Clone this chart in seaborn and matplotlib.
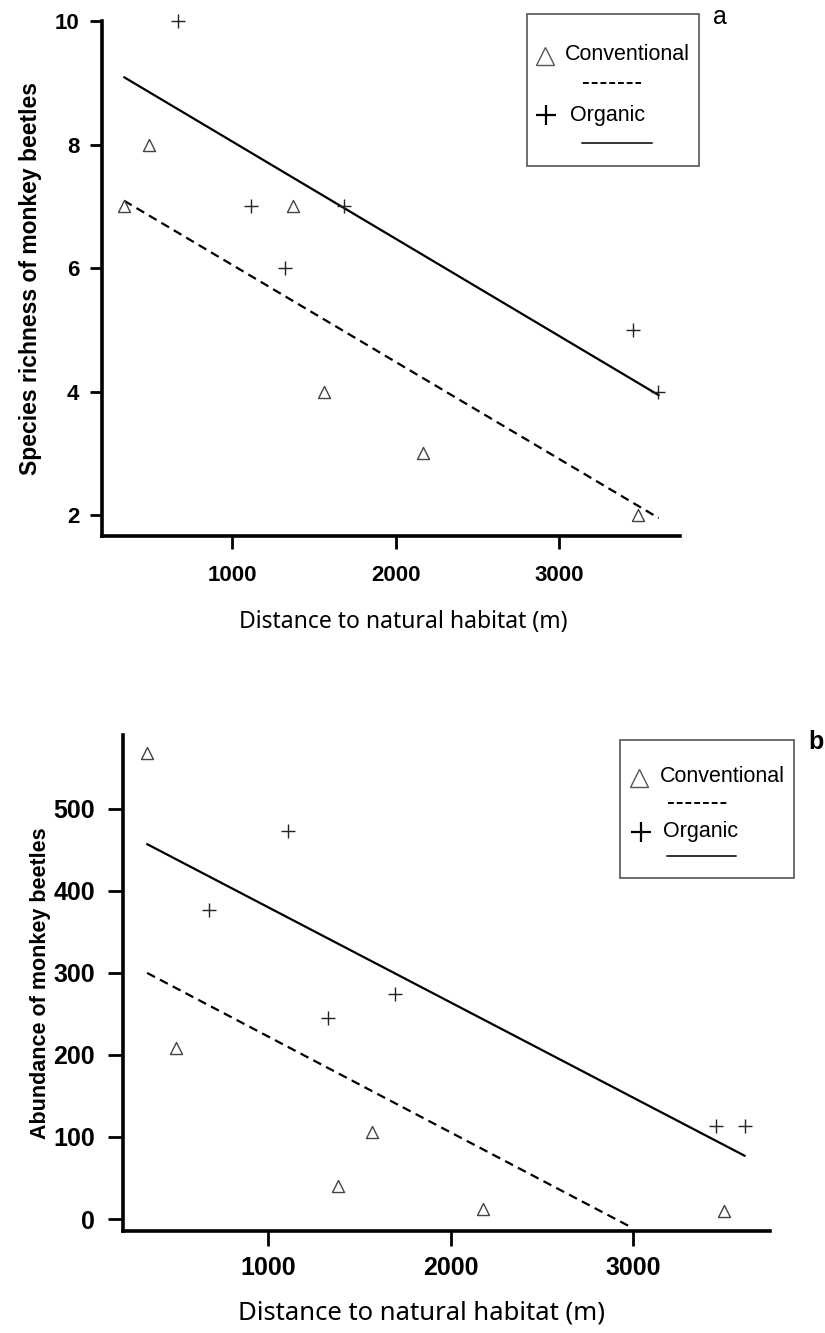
import numpy as np
import pandas as pd
import matplotlib
matplotlib.use("Agg")
import matplotlib.pyplot as plt
import seaborn as sns
from matplotlib.lines import Line2D
from matplotlib.patches import Rectangle

# --- Data ---
# panel a: species richness
conv_dist_a = [339, 492, 1375, 1564, 2171, 3483]
conv_rich_a = [7, 8, 7, 4, 3, 2]
org_dist_a = [672, 1114, 1324, 1687, 3452, 3606]
org_rich_a = [10, 7, 6, 7, 5, 4]
fit_dist_a = [340, 3610]
conv_fit_a = [7.09, 1.95]
org_fit_a = [9.09, 3.94]

# panel b: abundance
conv_dist_b = [337, 493, 1383, 1570, 2176, 3499]
conv_abund_b = [568, 208, 40, 106, 12, 10]
org_dist_b = [677, 1109, 1329, 1694, 3455, 3613]
org_abund_b = [377, 473, 245, 274, 113, 113]
conv_fit_dist_b = [337, 2990]
conv_fit_b = [300, -10]
org_fit_dist_b = [337, 3613]
org_fit_b = [457, 77]

ticks_x = [1000, 2000, 3000]
ticks_rich = [2, 4, 6, 8, 10]
ticks_abund = [0, 100, 200, 300, 400, 500]

sns.set_style("ticks")
plt.rcParams['font.family'] = ['Liberation Sans', 'DejaVu Sans']
plt.rcParams['text.color'] = 'black'
plt.rcParams['axes.labelcolor'] = 'black'
plt.rcParams['xtick.color'] = 'black'
plt.rcParams['ytick.color'] = 'black'

W, H = 825, 1333
fig = plt.figure(figsize=(W / 100, H / 100), dpi=100)


def px_box(x0, y0, x1, y1):
    return [x0 / W, 1 - y1 / H, (x1 - x0) / W, (y1 - y0) / H]


def fx(x):
    return x / W


def fy(y):
    return 1 - y / H


def draw_panel(ax, cd, cy, od, oy, cfx, cfy, ofx, ofy, tri_s, plus_s):
    sns.scatterplot(x=cd, y=cy, ax=ax, marker='^', s=tri_s, facecolor='white',
                    edgecolor='#444444', linewidth=1.0, zorder=3, clip_on=False)
    sns.scatterplot(x=od, y=oy, ax=ax, marker='+', s=plus_s, color='#222222',
                    linewidth=1.0, zorder=3, clip_on=False)
    sns.lineplot(x=cfx, y=cfy, ax=ax, color='black', linewidth=1.6,
                 estimator=None)
    ax.lines[-1].set_linestyle((0, (4, 2.5)))
    sns.lineplot(x=ofx, y=ofy, ax=ax, color='black', linewidth=1.6, estimator=None)
    sns.despine(ax=ax)
    for sp in ['left', 'bottom']:
        ax.spines[sp].set_linewidth(2.6)
        ax.spines[sp].set_color('black')


# --- panel a ---
ax1 = fig.add_axes(px_box(101.7, 21, 680, 536))
draw_panel(ax1, conv_dist_a, conv_rich_a, org_dist_a, org_rich_a,
           fit_dist_a, conv_fit_a, fit_dist_a, org_fit_a, 75, 110)
ax1.set_xlim(203, 3740)
ax1.set_ylim(1.66, 10)
ax1.set_xticks(ticks_x)
ax1.set_yticks(ticks_rich)
ax1.tick_params(axis='both', length=9, width=2, labelsize=16)
ax1.tick_params(axis='x', pad=12)
ax1.tick_params(axis='y', pad=7)
for lab in ax1.get_xticklabels() + ax1.get_yticklabels():
    lab.set_fontweight('bold')
ax1.set_ylabel("Species richness of monkey beetles", fontsize=16.5,
               fontweight='bold', labelpad=9)
ax1.set_xlabel("Distance to natural habitat (m)", fontsize=16.5,
               family=['Noto Sans', 'DejaVu Sans'])
ax1.xaxis.set_label_coords(0.521, -0.143)

# --- panel b ---
ax2 = fig.add_axes(px_box(123, 735, 770, 1231))
draw_panel(ax2, conv_dist_b, conv_abund_b, org_dist_b, org_abund_b,
           conv_fit_dist_b, conv_fit_b, org_fit_dist_b, org_fit_b, 75, 110)
ax2.set_xlim(205, 3751)
ax2.set_ylim(-14.6, 590)
ax2.set_xticks(ticks_x)
ax2.set_yticks(ticks_abund)
ax2.tick_params(axis='both', length=11, width=2, labelsize=18)
ax2.tick_params(axis='x', pad=7)
ax2.tick_params(axis='y', pad=9)
for lab in ax2.get_xticklabels() + ax2.get_yticklabels():
    lab.set_fontweight('bold')
ax2.set_ylabel("Abundance of monkey beetles", fontsize=15.5,
               fontweight='bold', labelpad=2)
ax2.set_xlabel("Distance to natural habitat (m)", fontsize=18.5,
               family=['Noto Sans', 'DejaVu Sans'])
ax2.xaxis.set_label_coords(0.461, -0.141)


# --- hand-drawn style legends ---
def draw_legend(box, tri_xy, conv_xy, dash_seg, plus_xy, org_xy, solid_seg):
    x0, y0, x1, y1 = box
    fig.patches.append(Rectangle((fx(x0), fy(y1)), fx(x1) - fx(x0), fy(y0) - fy(y1),
                                 transform=fig.transFigure, fill=False,
                                 edgecolor='#555555', linewidth=1.2))
    fig.lines.append(Line2D([fx(tri_xy[0])], [fy(tri_xy[1])], marker='^',
                            markersize=13, markerfacecolor='white',
                            markeredgecolor='#555555', markeredgewidth=1.0,
                            transform=fig.transFigure))
    fig.text(fx(conv_xy[0]), fy(conv_xy[1]), "Conventional", fontsize=15.5,
             va='center', ha='left')
    fig.lines.append(Line2D([fx(dash_seg[0]), fx(dash_seg[1])],
                            [fy(dash_seg[2]), fy(dash_seg[2])], color='black',
                            linewidth=1.4, linestyle=(0, (3, 1.5)),
                            transform=fig.transFigure))
    fig.lines.append(Line2D([fx(plus_xy[0])], [fy(plus_xy[1])], marker='+',
                            markersize=14, color='black', markeredgewidth=1.6,
                            transform=fig.transFigure))
    fig.text(fx(org_xy[0]), fy(org_xy[1]), "Organic", fontsize=15.5,
             va='center', ha='left')
    fig.lines.append(Line2D([fx(solid_seg[0]), fx(solid_seg[1])],
                            [fy(solid_seg[2]), fy(solid_seg[2])], color='#333333',
                            linewidth=1.4, transform=fig.transFigure))


draw_legend((527, 14, 699, 166), (545, 56), (565, 55), (583, 641, 83),
            (546, 115), (570, 115), (582, 652, 143))
draw_legend((620, 740, 794, 878), (639, 778), (660, 777), (668, 727, 803),
            (641, 832), (663, 832), (667, 736, 856))

fig.text(fx(720), fy(17), "a", fontsize=18, va='center', ha='center')
fig.text(fx(816), fy(742), "b", fontsize=18, fontweight='bold',
         va='center', ha='center')

fig.savefig("out.png", dpi=100, facecolor='white')
